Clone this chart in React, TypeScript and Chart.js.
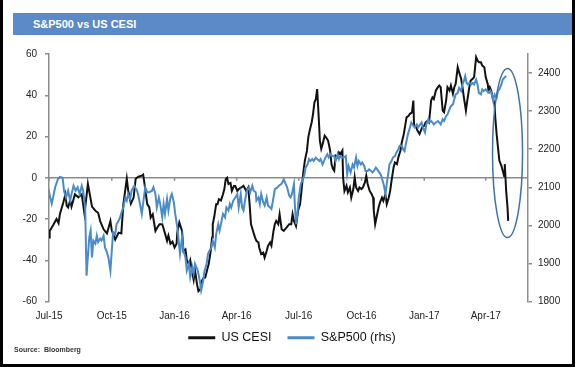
import { useEffect, useRef } from 'react';
import { Chart, registerables } from 'chart.js';

Chart.register(...registerables);

// ---------- data ----------
const BASE_DATE = '2015-07-01'; // day 0 of the x axis
const X_MAX_DAY = 702;

const tickDates = ['2015-07-01', '2015-10-01', '2016-01-01', '2016-04-01', '2016-07-01', '2016-10-01', '2017-01-01', '2017-04-01'];
const tickLabels = ['Jul-15', 'Oct-15', 'Jan-16', 'Apr-16', 'Jul-16', 'Oct-16', 'Jan-17', 'Apr-17'];

const cesiLabel = 'US CESI';
const spxLabel = 'S&P500 (rhs)';

// [days since BASE_DATE, CESI value]
const cesiSeries: [number, number][] = [
  [0, -29], [1, -25.8], [6, -23], [11, -20], [14, -22], [16, -17.5], [21, -12], [24, -8], [26, -13.6], [28, -14.4],
  [31, -11], [33, -14], [38, -8], [43, -9.5], [48, -8], [52, -17.5], [57, -3], [63, -14], [68, -16], [72, -17],
  [75, -21], [80, -25], [85, -27], [90, -21], [92, -25.5], [97, -30], [102, -26.6], [106, -27], [109, -12.8], [114, -0.5],
  [116, -6], [120, -12.6], [124, -9.6], [127, -0.5], [131, 0.5], [136, 1], [138, 1.5], [140, -3], [142, -8], [144, -12.8],
  [147, -14.4], [149, -19.3], [152, -17.7], [156, -25.8], [159, -24], [162, -22.5], [166, -22.5], [169, -25.8], [173, -30.6], [175, -28],
  [178, -32], [181, -31], [184, -33.8], [187, -32], [188, -26.6], [191, -21.7], [195, -25.8], [197, -35.5], [200, -34.7], [202, -40],
  [205, -42], [207, -40], [210, -46], [212, -49.5], [214, -45], [217, -51.7], [219, -55], [222, -54], [224, -50], [227, -48.4],
  [229, -48.4], [232, -44.4], [234, -42], [237, -35.5], [239, -29], [240, -22.5], [242, -19.3], [245, -12.8], [247, -12.8], [249, -10.4],
  [252, -11], [255, -8], [257, -5.5], [259, -0.7], [261, 0], [263, -3], [266, -2.5], [268, -6.4], [271, -4], [273, -4],
  [276, -6.4], [278, -5.5], [282, -4.7], [285, -3.9], [289, -6.4], [292, -4.7], [294, -12.8], [296, -22.5], [299, -25.8], [302, -29],
  [304, -30.6], [307, -31.4], [308, -33.8], [311, -37], [314, -36.3], [316, -38.7], [319, -35.5], [321, -33], [324, -31.4], [326, -33],
  [329, -25.8], [331, -22.5], [333, -20.9], [336, -22.5], [338, -17.7], [341, -25], [344, -25.8], [348, -24.2], [352, -22.5], [355, -22.5],
  [357, -17.7], [359, -20.9], [362, -23.4], [365, -16], [368, -12.8], [370, -6.4], [373, 3.4], [375, 8.3], [378, 13], [380, 19.6],
  [382, 22.8], [385, 26.9], [387, 31], [389, 36.6], [391, 38], [393, 43], [395, 31], [397, 18], [399, 14], [401, 16.2],
  [404, 20.4], [406, 19.6], [409, 18], [412, 13.2], [414, 6.6], [416, 4.4], [418, 3.4], [420, 10.7], [423, 9.9], [425, 12.3],
  [427, 11.5], [430, 13.2], [431, 0.2], [433, -6.4], [436, -3.9], [438, -7.1], [441, -4.7], [443, -9.6], [446, -5.5], [448, 0.2],
  [450, -4.7], [453, -6.4], [455, -4.7], [458, -5.5], [460, -4.7], [463, -2.3], [465, 1], [467, -3], [470, -6.4], [473, -8],
  [475, -9.6], [476, -16], [478, -22.5], [480, -19.3], [483, -14.4], [485, -12], [488, -9.6], [490, -11.2], [493, -8], [495, -12.8],
  [498, -9.6], [500, -6.4], [502, -1.5], [505, 5], [507, 7.4], [510, 6.6], [512, 9.9], [515, 13.1], [517, 17.1], [520, 21.2],
  [522, 25.3], [524, 29.3], [527, 30], [529, 31], [532, 31.7], [534, 37.4], [535, 25.3], [538, 24.5], [540, 22.9], [543, 21.2],
  [545, 22.9], [547, 24.5], [550, 25.3], [552, 26.9], [555, 27.7], [557, 26.9], [560, 37.4], [562, 39], [564, 38.2], [567, 42.3],
  [570, 43.9], [572, 44.7], [574, 43.9], [577, 32.6], [579, 31.8], [582, 37.4], [584, 43.9], [587, 42.3], [589, 44.7], [592, 40.7],
  [594, 43.9], [596, 45.5], [599, 53.6], [601, 51.2], [604, 48], [606, 43.9], [608, 39], [611, 32.6], [613, 37.4], [616, 43.9],
  [618, 47.1], [621, 48], [623, 48.8], [626, 58.5], [628, 56.9], [630, 56], [633, 56], [635, 54.4], [638, 53.6], [640, 48.8],
  [643, 45.5], [644, 42.3], [646, 43.9], [648, 42.3], [650, 39], [653, 35.8], [654, 29.3], [656, 21.2], [658, 14.7], [660, 8.3],
  [663, 5.8], [665, 3.4], [667, 0.9], [668, 6.6], [669, 0], [670, -6.4], [672, -14.4], [673, -20.9],
];

// [days since BASE_DATE, S&P 500 level]
const spxSeries: [number, number][] = [
  [0, 2073], [1, 2080], [4, 2057], [6, 2073], [9, 2100], [13, 2121], [16, 2127], [20, 2125], [22, 2091], [25, 2073],
  [28, 2091], [31, 2065], [33, 2082], [36, 2104], [39, 2091], [42, 2100], [45, 2082], [48, 2104], [50, 2091], [53, 2047],
  [55, 1868], [59, 1968], [61, 1986], [63, 1916], [65, 1960], [68, 1952], [70, 1973], [72, 1956], [75, 1965], [77, 1960],
  [80, 1973], [82, 1942], [85, 1929], [87, 1916], [90, 1881], [92, 1933], [94, 1982], [97, 1977], [99, 2003], [102, 2012],
  [104, 2020], [107, 2038], [109, 2047], [112, 2073], [114, 2065], [116, 2082], [119, 2069], [121, 2091], [125, 2104], [129, 2091],
  [131, 2078], [134, 2050], [136, 2030], [139, 2073], [141, 2100], [144, 2087], [147, 2087], [151, 2091], [153, 2100], [156, 2082],
  [158, 2047], [161, 2073], [163, 2056], [166, 2021], [168, 2056], [170, 2030], [173, 2069], [175, 2039], [178, 2073], [180, 2082],
  [183, 2060], [185, 2030], [188, 1995], [190, 1960], [192, 1925], [195, 1969], [197, 1933], [200, 1916], [202, 1881], [205, 1899],
  [207, 1864], [210, 1890], [212, 1873], [214, 1899], [218, 1881], [221, 1855], [223, 1829], [226, 1855], [228, 1881], [231, 1899],
  [233, 1925], [235, 1933], [238, 1942], [240, 1960], [243, 1942], [245, 1977], [248, 2003], [250, 1986], [253, 2012], [255, 2030],
  [258, 2021], [260, 2047], [263, 2039], [265, 2056], [267, 2047], [270, 2065], [273, 2073], [276, 2082], [278, 2047], [281, 2082],
  [283, 2047], [285, 2039], [288, 2073], [290, 2091], [293, 2100], [295, 2087], [298, 2104], [300, 2091], [303, 2087], [304, 2065],
  [307, 2073], [309, 2056], [311, 2082], [314, 2060], [316, 2052], [319, 2073], [321, 2052], [324, 2047], [326, 2043], [329, 2073],
  [331, 2095], [335, 2100], [337, 2104], [340, 2108], [342, 2113], [344, 2121], [347, 2108], [349, 2100], [352, 2078], [354, 2073],
  [356, 2082], [359, 2108], [360, 2065], [362, 2003], [364, 2030], [366, 2073], [369, 2108], [371, 2117], [374, 2130], [376, 2152],
  [379, 2160], [381, 2174], [383, 2169], [386, 2174], [388, 2169], [391, 2178], [393, 2174], [396, 2169], [398, 2174], [401, 2160],
  [403, 2169], [405, 2178], [408, 2187], [410, 2178], [413, 2187], [415, 2182], [418, 2182], [420, 2169], [423, 2187], [425, 2174],
  [427, 2182], [430, 2178], [432, 2178], [435, 2182], [437, 2134], [439, 2156], [442, 2139], [445, 2160], [447, 2152], [450, 2178],
  [452, 2156], [454, 2169], [457, 2160], [459, 2165], [462, 2156], [464, 2143], [467, 2143], [469, 2147], [472, 2143], [474, 2139],
  [476, 2143], [479, 2152], [481, 2147], [484, 2139], [486, 2134], [489, 2117], [491, 2104], [493, 2082], [495, 2108], [497, 2134],
  [499, 2160], [502, 2169], [504, 2178], [507, 2182], [509, 2191], [512, 2200], [514, 2209], [517, 2209], [519, 2200], [521, 2195],
  [524, 2222], [526, 2239], [529, 2257], [531, 2270], [534, 2261], [536, 2257], [539, 2265], [541, 2257], [544, 2265], [546, 2270],
  [548, 2257], [551, 2244], [553, 2265], [556, 2279], [557, 2270], [560, 2274], [562, 2270], [564, 2265], [567, 2270], [570, 2274],
  [572, 2270], [574, 2265], [577, 2279], [579, 2274], [582, 2287], [584, 2291], [587, 2305], [589, 2313], [592, 2318], [594, 2331],
  [596, 2344], [599, 2348], [601, 2361], [604, 2353], [606, 2370], [608, 2379], [610, 2392], [612, 2374], [614, 2370], [616, 2374],
  [619, 2370], [621, 2374], [623, 2370], [626, 2383], [628, 2370], [630, 2348], [633, 2344], [635, 2357], [637, 2353], [640, 2357],
  [642, 2353], [645, 2348], [647, 2353], [649, 2344], [651, 2327], [653, 2344], [656, 2335], [658, 2353], [660, 2357], [663, 2370],
  [665, 2383], [667, 2387], [670, 2392],
];

// highlighted region (ellipse), in data units
const highlightCenterDay = 672;
const highlightHalfDays = 22;
const highlightTop = 53;
const highlightBottom = -29;

const DAY_MS = 86400000;
const dayOf = (iso: string) => Math.round((Date.parse(iso) - Date.parse(BASE_DATE)) / DAY_MS);
const tickDays = tickDates.map(dayOf);

const AXIS_GREY = '#8c8c8c';
const TEXT = '#222222';
const CESI_COLOR = '#111111';
const SPX_COLOR = '#4a8bc9';
const RING_COLOR = '#3f72a8';
const LEGEND_SHIFT = 10; // legend sits closer to the axis labels than Chart.js would place it

const decorPlugin = {
  id: 'decor',
  afterLayout(chart: any) {
    const lg = chart.legend;
    if (lg) {
      lg.top -= LEGEND_SHIFT;
      lg.bottom -= LEGEND_SHIFT;
    }
  },
  beforeDatasetsDraw(chart: any) {
    const { ctx, chartArea, scales } = chart;
    const y0 = scales.y.getPixelForValue(0);
    ctx.save();
    ctx.strokeStyle = AXIS_GREY;
    ctx.lineWidth = 1.5;
    ctx.beginPath();
    ctx.moveTo(chartArea.left, y0);
    ctx.lineTo(chartArea.right, y0);
    ctx.stroke();
    tickDays.forEach((d) => {
      const x = scales.x.getPixelForValue(d);
      ctx.beginPath();
      ctx.moveTo(x, y0);
      ctx.lineTo(x, y0 + 3);
      ctx.stroke();
    });
    ctx.restore();
  },
  afterDatasetsDraw(chart: any) {
    const { ctx, scales } = chart;
    const cx = scales.x.getPixelForValue(highlightCenterDay);
    const rx = Math.abs(scales.x.getPixelForValue(highlightCenterDay + highlightHalfDays) - cx);
    const yt = scales.y.getPixelForValue(highlightTop);
    const yb = scales.y.getPixelForValue(highlightBottom);
    ctx.save();
    ctx.strokeStyle = RING_COLOR;
    ctx.lineWidth = 1.5;
    ctx.beginPath();
    ctx.ellipse(cx, (yt + yb) / 2, rx, Math.abs(yb - yt) / 2, 0, 0, Math.PI * 2);
    ctx.stroke();
    ctx.restore();
  },
};

export default function App() {
  const canvasRef = useRef<HTMLCanvasElement | null>(null);

  useEffect(() => {
    document.body.style.margin = '0';
    const canvas = canvasRef.current;
    if (!canvas) return;
    Chart.defaults.font.family = "'Liberation Sans', Arial, sans-serif";
    const chart = new Chart(canvas, {
      type: 'line',
      data: {
        datasets: [
          {
            label: cesiLabel,
            data: cesiSeries.map(([x, y]) => ({ x, y })),
            yAxisID: 'y',
            borderColor: CESI_COLOR,
            backgroundColor: CESI_COLOR,
            borderWidth: 2,
            pointRadius: 0,
            tension: 0,
            order: 1,
          },
          {
            label: spxLabel,
            data: spxSeries.map(([x, y]) => ({ x, y })),
            yAxisID: 'y1',
            borderColor: SPX_COLOR,
            backgroundColor: SPX_COLOR,
            borderWidth: 2,
            pointRadius: 0,
            tension: 0,
            order: 0,
          },
        ],
      },
      options: {
        responsive: false,
        animation: false,
        events: [],
        layout: { padding: { top: 54, bottom: 3, left: 9, right: 0 } },
        scales: {
          x: {
            type: 'linear',
            position: 'bottom',
            min: 0,
            max: X_MAX_DAY,
            grid: { display: false, drawTicks: false },
            border: { display: false },
            afterBuildTicks: (scale: any) => {
              scale.ticks = tickDays.map((v) => ({ value: v }));
            },
            afterFit: (scale: any) => {
              scale.height = 24;
            },
            ticks: {
              autoSkip: false,
              maxRotation: 0,
              padding: 9,
              color: TEXT,
              font: { size: 10 },
              callback: (_v: any, i: number) => tickLabels[i],
            },
          },
          y: {
            type: 'linear',
            position: 'left',
            min: -60,
            max: 60,
            grid: { drawOnChartArea: false, drawTicks: true, tickLength: 4, color: AXIS_GREY, lineWidth: 1.5 },
            border: { color: AXIS_GREY, width: 1.5 },
            afterFit: (scale: any) => {
              scale.width = 40;
            },
            ticks: { stepSize: 20, padding: 8, color: TEXT, font: { size: 10 } },
          },
          y1: {
            type: 'linear',
            position: 'right',
            min: 1800,
            max: 2450,
            grid: { drawOnChartArea: false, drawTicks: true, tickLength: 4, color: AXIS_GREY, lineWidth: 1.5 },
            border: { color: AXIS_GREY, width: 1.5 },
            afterBuildTicks: (scale: any) => {
              scale.ticks = scale.ticks.filter((t: any) => t.value % 100 === 0);
            },
            afterFit: (scale: any) => {
              scale.width = 47;
            },
            ticks: {
              stepSize: 100,
              padding: 6,
              color: TEXT,
              font: { size: 10 },
              callback: (v: any) => String(v),
            },
          },
        },
        plugins: {
          title: { display: false },
          tooltip: { enabled: false },
          legend: {
            display: true,
            position: 'bottom',
            labels: {
              boxWidth: 27,
              boxHeight: 3,
              padding: 16,
              color: '#111111',
              font: { size: 12.5 },
              generateLabels: (ch: any) =>
                ch.data.datasets.map((ds: any, i: number) => ({
                  text: ds.label,
                  fillStyle: ds.borderColor,
                  strokeStyle: ds.borderColor,
                  lineWidth: 0,
                  hidden: false,
                  datasetIndex: i,
                  fontColor: '#111111',
                })),
            },
          },
        },
      },
      plugins: [decorPlugin],
    } as any);
    return () => chart.destroy();
  }, []);

  return (
    <div style={{ position: 'relative', width: 575, height: 367, background: '#ffffff', overflow: 'hidden' }}>
      <canvas ref={canvasRef} width={575} height={367} style={{ position: 'absolute', left: 0, top: 0, width: 575, height: 367 }} />
      <div
        style={{
          position: 'absolute',
          left: 13,
          top: 13,
          width: 559,
          height: 22,
          background: '#5b8ac6',
          color: '#ffffff',
          fontFamily: "'Liberation Sans', Arial, sans-serif",
          fontWeight: 'bold',
          fontSize: 11,
          lineHeight: '22px',
          paddingLeft: 20,
          boxSizing: 'border-box',
        }}
      >
        S&amp;P500 vs US CESI
      </div>
      <div
        style={{
          position: 'absolute',
          left: 14,
          top: 345,
          fontFamily: "'Liberation Sans', Arial, sans-serif",
          fontWeight: 'bold',
          fontSize: 7,
          lineHeight: '10px',
          color: '#333333',
          whiteSpace: 'pre',
        }}
      >
        {'Source:  Bloomberg'}
      </div>
      <div style={{ position: 'absolute', left: 0, top: 0, width: 3, height: 367, background: '#000' }} />
      <div style={{ position: 'absolute', left: 572, top: 0, width: 3, height: 367, background: '#000' }} />
      <div style={{ position: 'absolute', left: 0, top: 364, width: 575, height: 3, background: '#000' }} />
    </div>
  );
}
